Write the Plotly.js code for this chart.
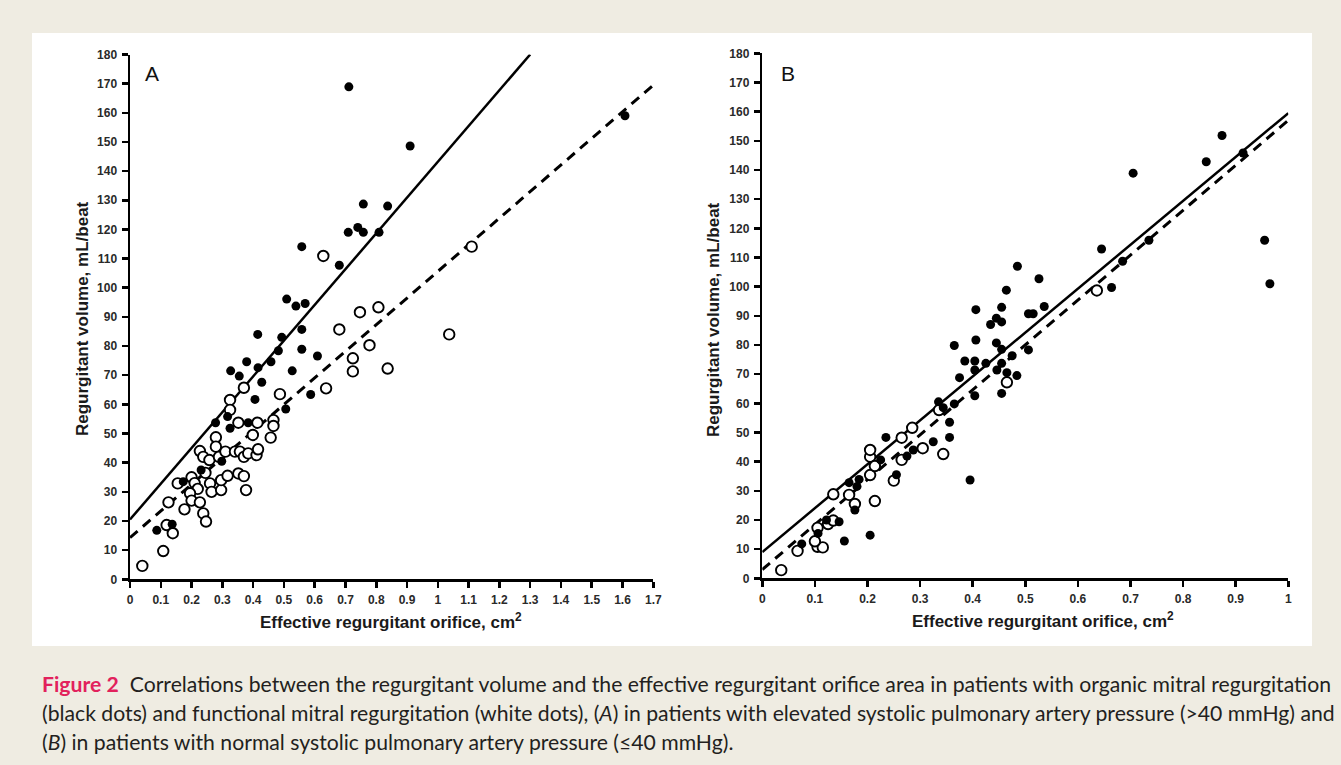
<!DOCTYPE html>
<html>
<head>
<meta charset="utf-8">
<script src="https://cdn.plot.ly/plotly-3.0.1.min.js"></script>
<style>html,body{margin:0;padding:0;background:#efece2;}#chart{width:1341px;height:765px;}</style>
</head>
<body>
<div id="chart"></div>
<script>
// ---------- DATA ----------
// Panel A: elevated systolic PAP (>40 mmHg)
const A_organic_x = [0.087,0.137,0.173,0.231,0.298,0.278,0.317,0.325,0.327,0.355,0.379,0.384,0.415,0.416,0.428,0.406,0.458,0.482,0.493,0.506,0.527,0.558,0.558,0.587,0.609,0.509,0.539,0.569,0.558,0.680,0.709,0.740,0.758,0.809,0.758,0.837,0.910,0.711,1.608];
const A_organic_y = [16.8,18.9,33.5,37.5,40.5,53.7,55.8,51.8,71.5,69.7,74.6,53.7,84,72.6,67.6,61.7,74.6,78.4,83,58.4,71.5,78.9,85.7,63.4,76.6,96.1,93.7,94.6,114.1,107.7,119,120.7,119,119,128.7,128,148.6,168.9,159];
const A_functional_x = [0.370,0.325,0.325,0.352,0.414,0.466,0.466,0.457,0.399,0.279,0.279,0.227,0.238,0.258,0.289,0.310,0.341,0.357,0.370,0.384,0.411,0.416,0.155,0.200,0.210,0.220,0.195,0.200,0.227,0.177,0.125,0.238,0.247,0.119,0.139,0.108,0.040,0.260,0.265,0.296,0.296,0.317,0.352,0.370,0.377,0.245,0.487,0.637,0.628,0.680,0.747,0.807,0.778,1.037,1.110,0.724,0.724,0.837];
const A_functional_y = [65.7,61.5,58.1,53.7,53.7,54.6,52.6,48.6,49.5,48.7,45.5,44,42,40.9,42,43.8,43.8,43.8,42,43.2,42.6,44.6,32.9,35,33,31,29.5,27,26.4,24,26.4,22.6,19.8,18.6,15.8,9.7,4.6,32.9,30,30.6,34,35.5,36.3,35.4,30.6,36.5,63.5,65.5,110.9,85.7,91.6,93.3,80.3,84,114.1,75.8,71.3,72.3];
const A_fit_organic_x = [0, 1.3];
const A_fit_organic_y = [20.5, 180];
const A_fit_functional_x = [0, 1.7];
const A_fit_functional_y = [14.3, 169.5];

// Panel B: normal systolic PAP (<=40 mmHg)
const B_organic_x = [0.075,0.106,0.146,0.122,0.156,0.205,0.165,0.184,0.180,0.176,0.225,0.235,0.275,0.287,0.255,0.325,0.335,0.344,0.356,0.356,0.365,0.395,0.375,0.385,0.404,0.404,0.404,0.425,0.455,0.446,0.484,0.465,0.455,0.475,0.455,0.506,0.365,0.406,0.406,0.434,0.445,0.445,0.455,0.455,0.464,0.485,0.506,0.515,0.526,0.536,0.645,0.664,0.685,0.705,0.735,0.844,0.874,0.914,0.955,0.965];
const B_organic_y = [11.8,15.4,19.4,20,12.8,14.8,32.8,33.9,31.5,23.4,40.6,48.3,41.9,44,35.5,46.8,60.5,58.5,53.5,48.3,59.8,33.7,68.8,74.5,74.5,71.4,62.6,73.7,63.4,71.4,69.5,70.5,73.7,76.3,78.5,78.3,79.8,92.1,81.7,87,89.2,80.7,92.9,87.9,98.8,107,90.7,90.7,102.7,93.2,112.9,99.7,108.7,138.9,115.9,142.8,151.8,145.8,115.9,101];
const B_functional_x = [0.036,0.067,0.105,0.115,0.100,0.105,0.125,0.135,0.135,0.165,0.176,0.205,0.205,0.205,0.214,0.214,0.265,0.285,0.265,0.305,0.250,0.344,0.336,0.465,0.636];
const B_functional_y = [2.8,9.4,10.8,10.6,12.7,17.3,18.6,19.8,28.8,28.6,25.5,35.4,41.7,44,38.5,26.5,48.2,51.6,40.6,44.6,33.5,42.6,57.7,67.2,98.7];
const B_fit_organic_x = [0, 1];
const B_fit_organic_y = [9, 159.5];
const B_fit_functional_x = [0, 1];
const B_fit_functional_y = [3, 157];

// Tick labels
const yTickVals = [0,10,20,30,40,50,60,70,80,90,100,110,120,130,140,150,160,170,180];
const yTickText = ["0","10","20","30","40","50","60","70","80","90","100","110","120","130","140","150","160","170","180"];
const xTickValsA = [0,0.1,0.2,0.3,0.4,0.5,0.6,0.7,0.8,0.9,1,1.1,1.2,1.3,1.4,1.5,1.6,1.7];
const xTickTextA = ["0","0.1","0.2","0.3","0.4","0.5","0.6","0.7","0.8","0.9","1","1.1","1.2","1.3","1.4","1.5","1.6","1.7"];
const xTickValsB = [0,0.1,0.2,0.3,0.4,0.5,0.6,0.7,0.8,0.9,1];
const xTickTextB = ["0","0.1","0.2","0.3","0.4","0.5","0.6","0.7","0.8","0.9","1"];

// Text
const yTitle = "Regurgitant volume, mL/beat";
const xTitle = "Effective regurgitant orifice, cm<sup>2</sup>";
const captionLines = [
  "<b><span style=\"color:#e2215c\">Figure 2</span></b>  Correlations between the regurgitant volume and the effective regurgitant orifice area in patients with organic mitral regurgitation",
  "(black dots) and functional mitral regurgitation (white dots), (<i>A</i>) in patients with elevated systolic pulmonary artery pressure (>40 mmHg) and",
  "(<i>B</i>) in patients with normal systolic pulmonary artery pressure (≤40 mmHg)."
];

// ---------- LAYOUT ----------
const W = 1341, H = 765;
const px = v => v / W;
const py = v => 1 - v / H;

function fitLine(x, y, dash, xa, ya) {
  return {x: x, y: y, xaxis: xa, yaxis: ya, mode: 'lines', type: 'scatter', hoverinfo: 'skip',
    line: {color: '#000', width: dash ? 3 : 2.5, dash: dash ? '10px,7px' : 'solid'}, showlegend: false, cliponaxis: false};
}
function openPts(x, y, xa, ya) {
  return {x: x, y: y, xaxis: xa, yaxis: ya, mode: 'markers', type: 'scatter', showlegend: false, cliponaxis: false,
    marker: {symbol: 'circle', size: 10.5, color: '#fff', line: {color: '#000', width: 1.9}}};
}
function fillPts(x, y, xa, ya) {
  return {x: x, y: y, xaxis: xa, yaxis: ya, mode: 'markers', type: 'scatter', showlegend: false, cliponaxis: false,
    marker: {symbol: 'circle', size: 9, color: '#000', line: {width: 0}}};
}

const traces = [
  fitLine(A_fit_organic_x, A_fit_organic_y, false, 'x', 'y'),
  fitLine(A_fit_functional_x, A_fit_functional_y, true, 'x', 'y'),
  openPts(A_functional_x, A_functional_y, 'x', 'y'),
  fillPts(A_organic_x, A_organic_y, 'x', 'y'),
  fitLine(B_fit_organic_x, B_fit_organic_y, false, 'x2', 'y2'),
  fitLine(B_fit_functional_x, B_fit_functional_y, true, 'x2', 'y2'),
  openPts(B_functional_x, B_functional_y, 'x2', 'y2'),
  fillPts(B_organic_x, B_organic_y, 'x2', 'y2')
];

const tickFont = {family: 'Liberation Sans, Arial, sans-serif', size: 12, color: '#2a2a2a', weight: 'bold'};
function axisBase(extra) {
  return Object.assign({
    showgrid: false, zeroline: false, showline: true, linecolor: '#000', linewidth: 2.5,
    ticks: 'outside', ticklen: 6, tickwidth: 2.5, tickcolor: '#000', tickfont: tickFont,
    tickmode: 'array', fixedrange: true, ticklabelstandoff: 2
  }, extra);
}

const titleFont = {family: 'Liberation Sans, Arial, sans-serif', size: 17, color: '#1a1a1a', weight: 'bold'};
const capFont = {family: 'Lato, Open Sans, sans-serif', size: 21.2, color: '#231f20'};

const annotations = [
  {text: 'A', x: px(152), y: py(73), xref: 'paper', yref: 'paper', showarrow: false, xanchor: 'center', yanchor: 'middle',
   font: {family: 'Liberation Sans, Arial, sans-serif', size: 21, color: '#111'}},
  {text: 'B', x: px(788), y: py(73), xref: 'paper', yref: 'paper', showarrow: false, xanchor: 'center', yanchor: 'middle',
   font: {family: 'Liberation Sans, Arial, sans-serif', size: 21, color: '#111'}},
  {text: yTitle, textangle: -90, x: px(82), y: py(319), xref: 'paper', yref: 'paper', showarrow: false, xanchor: 'center', yanchor: 'middle', font: titleFont},
  {text: yTitle, textangle: -90, x: px(713), y: py(320), xref: 'paper', yref: 'paper', showarrow: false, xanchor: 'center', yanchor: 'middle', font: titleFont},
  {text: xTitle, x: px(391), y: py(621), xref: 'paper', yref: 'paper', showarrow: false, xanchor: 'center', yanchor: 'middle', font: titleFont},
  {text: xTitle, x: px(1043), y: py(620), xref: 'paper', yref: 'paper', showarrow: false, xanchor: 'center', yanchor: 'middle', font: titleFont},
  {text: captionLines[0], x: px(40), y: py(684), xref: 'paper', yref: 'paper', showarrow: false, xanchor: 'left', yanchor: 'middle', font: capFont},
  {text: captionLines[1], x: px(40), y: py(713), xref: 'paper', yref: 'paper', showarrow: false, xanchor: 'left', yanchor: 'middle', font: capFont},
  {text: captionLines[2], x: px(40), y: py(742), xref: 'paper', yref: 'paper', showarrow: false, xanchor: 'left', yanchor: 'middle', font: capFont}
];

const layout = {
  width: W, height: H,
  margin: {l: 0, r: 0, t: 0, b: 0, pad: 0},
  paper_bgcolor: '#efece2',
  plot_bgcolor: 'rgba(0,0,0,0)',
  showlegend: false,
  xaxis: axisBase({domain: [px(130), px(653.3)], range: [0, 1.7], tickvals: xTickValsA, ticktext: xTickTextA, anchor: 'y'}),
  yaxis: axisBase({domain: [py(579.3), py(54.5)], range: [0, 180], tickvals: yTickVals, ticktext: yTickText, anchor: 'x'}),
  xaxis2: axisBase({domain: [px(762.3), px(1288.3)], range: [0, 1], tickvals: xTickValsB, ticktext: xTickTextB, anchor: 'y2'}),
  yaxis2: axisBase({domain: [py(578.3), py(53.3)], range: [0, 180], tickvals: yTickVals, ticktext: yTickText, anchor: 'x2'}),
  shapes: [
    {type: 'rect', xref: 'paper', yref: 'paper', x0: px(32), x1: px(1312), y0: py(646), y1: py(33),
     fillcolor: '#ffffff', line: {width: 0}, layer: 'below'}
  ],
  annotations: annotations
};

Plotly.newPlot('chart', traces, layout, {staticPlot: true, displayModeBar: false});
</script>
</body>
</html>
